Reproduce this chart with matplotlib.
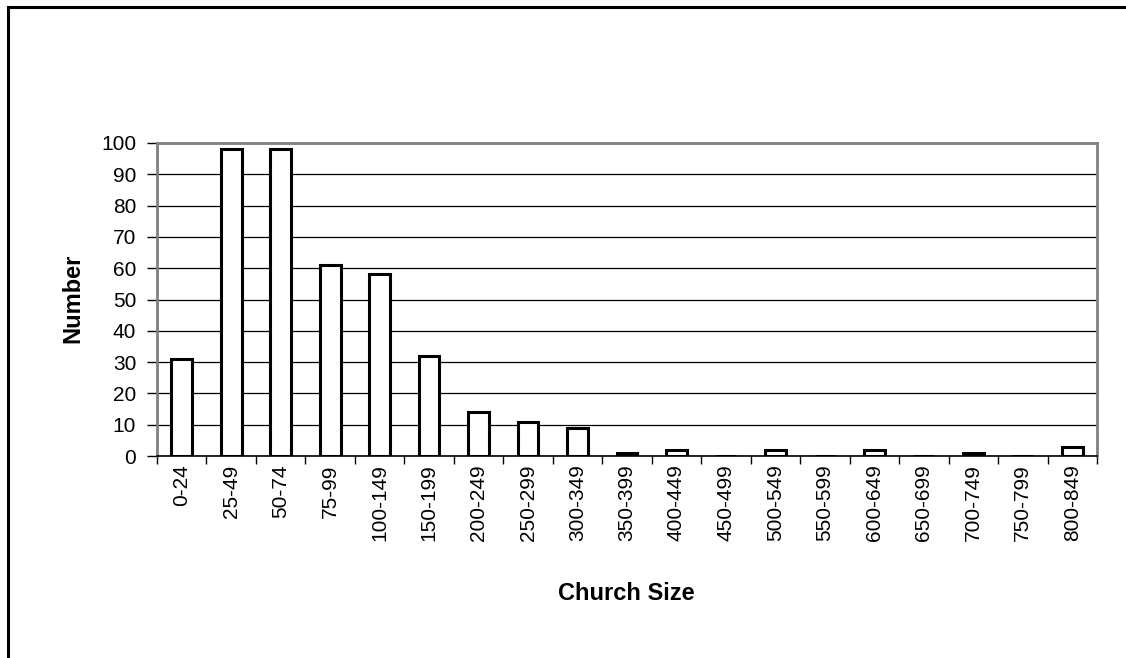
import matplotlib
matplotlib.use("Agg")
import matplotlib.pyplot as plt
from matplotlib.patches import Rectangle

categories = ["0-24", "25-49", "50-74", "75-99", "100-149", "150-199", "200-249",
              "250-299", "300-349", "350-399", "400-449", "450-499", "500-549",
              "550-599", "600-649", "650-699", "700-749", "750-799", "800-849"]
values = [31, 98, 98, 61, 58, 32, 14, 11, 9, 1, 2, 0, 2, 0, 2, 0, 1, 0, 3]
yticks = [0, 10, 20, 30, 40, 50, 60, 70, 80, 90, 100]

plt.rcParams['font.family'] = ['Liberation Sans', 'DejaVu Sans']

W, H = 1126, 658
fig = plt.figure(figsize=(W / 100, H / 100), dpi=100)
ax = fig.add_axes([157 / W, 1 - 456 / H, (1097 - 157) / W, (456 - 143) / H])

# figure border (only top and left visible)
fig.patches.append(Rectangle((8 / W, -0.1), 1.2, 1 - 7 / H + 0.1, transform=fig.transFigure,
                             fill=False, edgecolor='black', linewidth=2.2))

x = list(range(len(categories)))
ax.bar(x, values, width=0.42, color='white', edgecolor='black', linewidth=2.2, zorder=3)

ax.set_xlim(-0.5, len(categories) - 0.5)
ax.set_ylim(0, 100)
ax.set_yticks(yticks)
ax.set_yticklabels([str(v) for v in yticks], fontsize=15)
ax.yaxis.grid(True, color='black', linewidth=0.9, zorder=0)

ax.set_xticks(x)
ax.set_xticklabels(categories, rotation=90, fontsize=15)
ax.tick_params(axis='x', which='major', length=0, pad=6)
ax.set_xticks([i - 0.5 for i in range(len(categories) + 1)], minor=True)
ax.tick_params(axis='x', which='minor', length=6, width=1, color='black', direction='out')
ax.tick_params(axis='y', length=7, width=1, color='black', direction='out', pad=8)

for s in ['top', 'right', 'left']:
    ax.spines[s].set_color('#808080')
    ax.spines[s].set_linewidth(2)
ax.spines['bottom'].set_color('black')
ax.spines['bottom'].set_linewidth(1.2)
ax.spines['bottom'].set_zorder(4)

fig.text(626.5 / W, 1 - 594 / H, "Church Size", fontsize=17, fontweight='bold',
         ha='center', va='center')
fig.text(72.5 / W, 1 - 298 / H, "Number", fontsize=17, fontweight='bold',
         ha='center', va='center', rotation=90)

fig.savefig("out.png", dpi=100)
